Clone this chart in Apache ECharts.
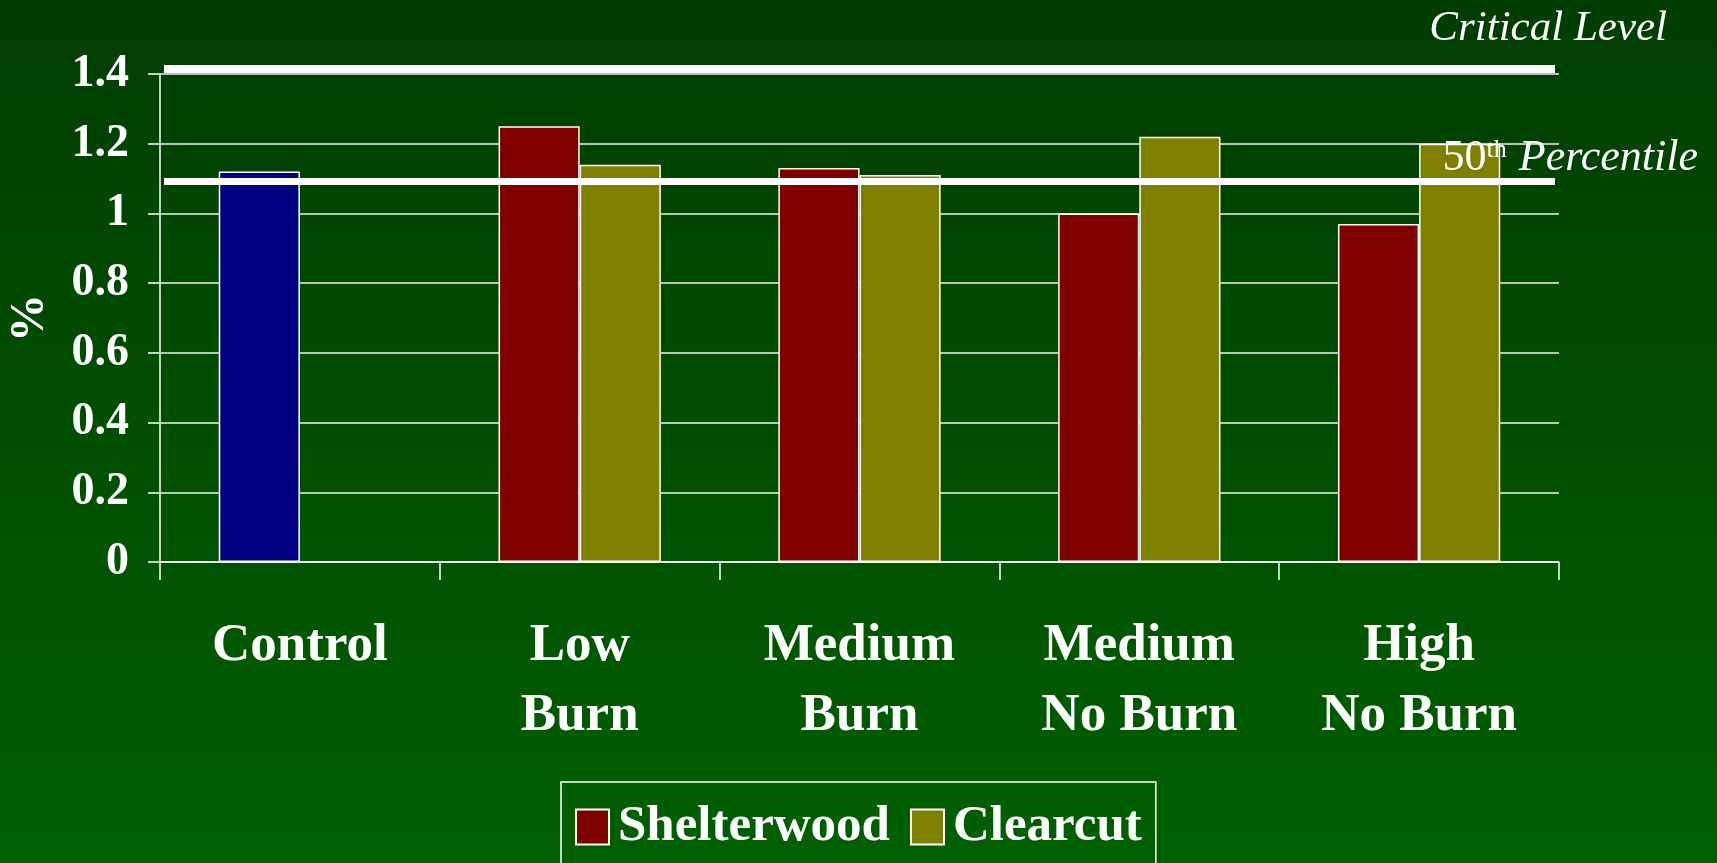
<!DOCTYPE html>
<html>
<head>
<meta charset="utf-8">
<style>
html,body{margin:0;padding:0;width:1717px;height:863px;overflow:hidden;}
#chart{width:1717px;height:863px;}
</style>
<script src="https://cdn.jsdelivr.net/npm/echarts@6/dist/echarts.min.js"></script>
</head>
<body>
<div id="chart"></div>
<script>
var categories = ['Control', 'Low\nBurn', 'Medium\nBurn', 'Medium\nNo Burn', 'High\nNo Burn'];
var shelterwood = [1.12, 1.25, 1.13, 1.00, 0.97];
var clearcut = [null, 1.14, 1.11, 1.22, 1.20];
var yTicks = [0, 0.2, 0.4, 0.6, 0.8, 1, 1.2, 1.4];
var criticalLevel = 1.414;
var percentile50 = 1.093;
var seriesNames = ['Shelterwood', 'Clearcut'];
var seriesColors = ['#800000', '#808000'];
var controlColor = '#000080';

var FONT = "'Liberation Serif', 'Times New Roman', serif";
var W = 1717, GRID_LEFT = 160, GRID_RIGHT = 158, LINE_INSET = 4;

var chart = echarts.init(document.getElementById('chart'));

var shelterData = shelterwood.map(function (v, i) {
  if (i === 0) return { value: v, itemStyle: { color: controlColor } };
  return v;
});
var clearData = clearcut.map(function (v) { return v == null ? '-' : v; });

function refLine(v, width) {
  return [
    { x: GRID_LEFT + LINE_INSET, yAxis: v, lineStyle: { width: width } },
    { x: W - GRID_RIGHT - LINE_INSET, yAxis: v }
  ];
}

var option = {
  animation: false,
  backgroundColor: {
    type: 'linear', x: 0, y: 0, x2: 0, y2: 1,
    colorStops: [{ offset: 0, color: '#003d00' }, { offset: 1, color: '#006000' }]
  },
  grid: { left: GRID_LEFT, right: GRID_RIGHT, top: 74, bottom: 301, containLabel: false, outerBoundsMode: 'none' },
  legend: {
    data: seriesNames,
    left: 561, top: 782,
    orient: 'horizontal',
    icon: 'rect',
    itemWidth: 33, itemHeight: 35, itemGap: 20,
    padding: [17, 14, 30, 14],
    borderColor: '#ffffff', borderWidth: 1.5,
    textStyle: { color: '#ffffff', fontFamily: FONT, fontWeight: 'bold', fontSize: 51, lineHeight: 56, padding: [0, 0, 0, 4] }
  },
  xAxis: {
    type: 'category',
    data: categories,
    boundaryGap: true,
    axisLine: { show: true, lineStyle: { color: '#ffffff', width: 1.5 } },
    axisTick: { show: true, length: 18, alignWithLabel: false, lineStyle: { color: '#ffffff', width: 1.5 } },
    axisLabel: { color: '#ffffff', fontFamily: FONT, fontWeight: 'bold', fontSize: 53, lineHeight: 70, margin: 49, interval: 0 },
    splitLine: { show: false }
  },
  yAxis: {
    type: 'value',
    min: 0, max: 1.4, interval: 0.2,
    name: '%',
    nameLocation: 'middle',
    nameRotate: 90,
    nameGap: 105,
    nameTextStyle: { color: '#ffffff', fontFamily: FONT, fontWeight: 'bold', fontSize: 48 },
    axisLine: { show: true, lineStyle: { color: '#ffffff', width: 1.5 } },
    axisTick: { show: true, length: 12, inside: false, lineStyle: { color: '#ffffff', width: 1.5 } },
    axisLabel: {
      color: '#ffffff', fontFamily: FONT, fontWeight: 'bold', fontSize: 46, margin: 31,
      formatter: function (v) {
        var r = Math.round(v * 10) / 10;
        var idx = yTicks.indexOf(r);
        return idx >= 0 ? String(yTicks[idx]) : '';
      }
    },
    splitLine: { show: true, lineStyle: { color: '#f0f0f0', width: 1.7 } }
  },
  series: [
    {
      name: seriesNames[0],
      type: 'bar',
      data: shelterData,
      barGap: '0%',
      barCategoryGap: '42%',
      itemStyle: { color: seriesColors[0], borderColor: '#ffffff', borderWidth: 1.5 },
      z: 2
    },
    {
      name: seriesNames[1],
      type: 'bar',
      data: clearData,
      itemStyle: { color: seriesColors[1], borderColor: '#ffffff', borderWidth: 1.5 },
      z: 2
    },
    {
      name: 'reference',
      type: 'line',
      data: categories.map(function () { return '-'; }),
      clip: false,
      silent: true,
      showSymbol: false,
      z: 5,
      markLine: {
        silent: true,
        symbol: ['none', 'none'],
        label: { show: false },
        lineStyle: { color: '#ffffff', width: 8, type: 'solid' },
        data: [refLine(criticalLevel, 8), refLine(percentile50, 7)]
      }
    }
  ],
  graphic: [
    {
      type: 'text', right: 50, top: 7, z: 100,
      style: { text: 'Critical Level', fill: '#ffffff', font: 'italic 43px ' + FONT }
    },
    {
      type: 'text', right: 19, top: 133, z: 100,
      style: {
        text: '{n|50}{s|th}{p|Percentile}',
        fill: '#ffffff',
        rich: {
          n: { fontFamily: FONT, fontSize: 44, fill: '#ffffff', verticalAlign: 'bottom', lineHeight: 47 },
          s: { fontFamily: FONT, fontSize: 26, fill: '#ffffff', verticalAlign: 'top', lineHeight: 47, padding: [4, 0, 17, 0] },
          p: { fontFamily: FONT, fontStyle: 'italic', fontSize: 44, fill: '#ffffff', verticalAlign: 'bottom', lineHeight: 47, padding: [0, 0, 0, 12] }
        }
      }
    }
  ]
};

chart.setOption(option);
</script>
</body>
</html>
